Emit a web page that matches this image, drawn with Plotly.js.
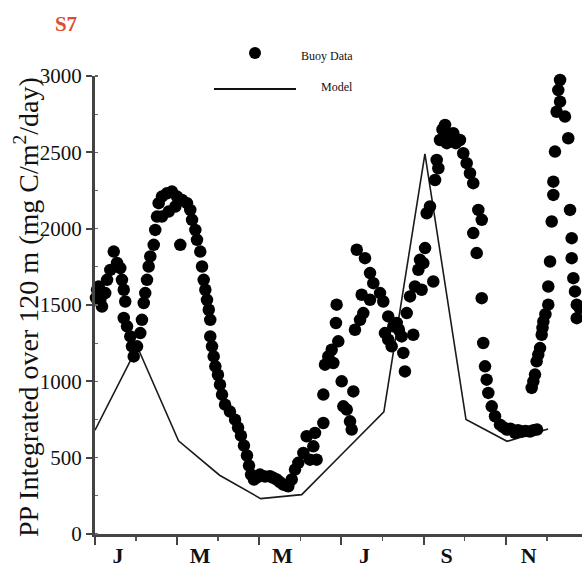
<!DOCTYPE html>
<html>
<head>
<meta charset="utf-8">
<script src="https://cdn.plot.ly/plotly-3.0.1.min.js"></script>
<style>html,body{margin:0;padding:0;background:#fff;}#chart{width:582px;height:567px;}</style>
</head>
<body>
<div id="chart"></div>
<script>
// ---- data (day of year, PP in mg C/m2/day) ----
const buoyDay = [
  0.7,1.5,2.7,3.9,5.1,7.5,8.8,11.2,13.7,16.1,18.5,19.7,21.0,22.1,
  21.0,23.4,25.8,27.0,28.3,30.7,33.1,34.3,
  35.6,36.7,38.0,39.2,40.4,42.9,44.0,45.3,46.5,48.9,52.6,56.2,59.9,63.6,67.2,69.6,70.9,48.9,53.8,58.7,62.3,
  73.3,74.5,76.9,78.2,79.4,80.6,81.8,83.1,84.2,84.2,85.5,86.7,87.9,89.8,91.3,92.8,95.0,98.6,102.3,104.5,106.6,108.8,111.0,112.5,114.0,116.1,120.5,124.2,127.8,132.7,137.5,141.2,143.7,146.1,
  118.5,130.2,135.0,139.5,
  148.5,152.2,154.6,157.0,159.5,161.9,160.7,166.8,166.8,168.0,170.4,172.9,174.1,177.7,176.0,176.5,180.2,181.4,183.9,186.3,187.5,188.7,189.9,193.6,191.2,197.2,200.9,203.3,194.8,200.9,208.2,210.6,196.0,
  214.2,211.8,216.7,224.0,220.4,227.7,232.5,225.2,226.4,230.1,233.7,236.2,237.4,241.1,247.1,238.6,239.8,217.9,214.2,222.0,
  242.3,244.7,248.4,250.8,249.6,252.0,255.7,261.7,266.6,269.0,271.5,273.9,276.3,280.0,282.5,276.3,278.8,282.5,283.6,284.9,286.1,287.3,289.8,292.2,295.8,300.7,306.8,311.9,317.7,322.9,
  253.8,258.5,263.5,257.0,298.2,303.5,309.0,314.5,320.3,
  319.0,321.4,322.6,325.1,326.3,327.5,331.1,331.1,332.4,333.6,334.8,334.8,336.0,345.7,337.2,343.3,339.7,338.4,339.7,347.0,348.2,348.2,349.4,350.6,351.9,351.9,
  320.2,323.8,326.9,329.0,354.0
];
const buoyPP = [
  1547,1600,1621,1534,1490,1578,1665,1730,1850,1775,1742,1665,1600,1523,
  1415,1360,1294,1229,1163,1229,1316,1403,
  1513,1578,1665,1752,1818,1894,1992,2079,2167,2210,2232,2243,2210,2188,2167,2123,2058,2079,2112,2145,1894,
  1992,1927,1850,1752,1665,1600,1534,1469,1403,1294,1229,1163,1098,1043,978,913,847,802,749,697,644,579,514,448,389,357,389,376,378,357,324,313,357,422,
  372,368,340,318,
  466,531,640,487,574,487,662,727,913,1109,1163,1207,1120,1262,1382,1502,1000,836,815,738,684,934,1338,1403,1862,1807,1709,1643,1567,1534,1578,1523,1447,
  1425,1316,1229,1294,1382,1447,1305,1186,1065,1556,1621,1731,1796,1873,1654,1600,1774,1360,1273,1338,
  2101,2145,2319,2396,2450,2581,2679,2625,2581,2494,2429,2363,2298,2123,2058,1971,1840,1545,1251,1098,1011,924,836,771,716,684,662,671,671,684,
  2650,2610,2560,2560,700,690,680,675,680,
  957,1044,1131,1218,1305,1392,1502,1621,1785,2047,2221,2308,2505,2592,2766,2734,2832,2908,2974,2123,1938,1807,1676,1589,1502,1414,
  1000,1175,1350,1440,1480
];
const modelDay = [0,31,61,91,121,151,181,211,241,271,301,331];
const modelPP  = [680,1225,610,385,232,258,529,800,2490,750,607,688];
const monthTickVals = [0,60,120,180,240,300];
const monthLabels = ['J','M','M','J','S','N'];
const seriesNames = ['Buoy Data','Model'];
const panelTitle = 'S7';
const yTitle = 'PP Integrated over 120 m (mg C/m<sup>2</sup>/day)';

// ---- layout helpers (pixel -> paper) ----
const W = 582, H = 567, ML = 95, MR = 0, MT = 76, MB = 33;
const PW = W - ML - MR, PH = H - MT - MB;
const px = x => (x - ML) / PW;
const py = y => (H - MB - y) / PH;
const serif = 'Liberation Serif, Times New Roman, serif';

const traces = [
  {x: modelDay, y: modelPP, name: seriesNames[1], type: 'scatter', mode: 'lines',
   line: {color: '#1a1a1a', width: 1.6}, hoverinfo: 'skip'},
  {x: buoyDay, y: buoyPP, name: seriesNames[0], type: 'scatter', mode: 'markers',
   marker: {color: '#000', size: 12.5, line: {width: 0}}, cliponaxis: false}
];

const layout = {
  width: W, height: H,
  margin: {l: ML, r: MR, t: MT, b: MB},
  paper_bgcolor: '#fff', plot_bgcolor: '#fff',
  showlegend: false,
  title: {text: '<b>' + panelTitle + '</b>', font: {family: serif, size: 21, color: '#e04a2e'},
          xref: 'container', x: 66 / W, xanchor: 'center', yref: 'container', y: 1 - 24 / H, yanchor: 'middle'},
  xaxis: {
    range: [0, PW / 1.369],
    tickmode: 'array', tickvals: monthTickVals, ticktext: monthLabels,
    ticks: 'outside', ticklen: 8, tickwidth: 2, tickcolor: '#444',
    ticklabelshift: 23, ticklabelstandoff: -8,
    tickfont: {family: serif, size: 22, color: '#111', weight: 'bold'},
    minor: {tickmode: 'array', tickvals: [30,90,150,210,270,330], ticks: 'outside', ticklen: 4, tickwidth: 1.5, tickcolor: '#555'},
    showline: true, linecolor: '#444', linewidth: 3,
    showgrid: false, zeroline: false, fixedrange: true
  },
  yaxis: {
    range: [0, 3000], tickmode: 'linear', tick0: 0, dtick: 500,
    ticks: 'outside', ticklen: 6, tickwidth: 2, tickcolor: '#444',
    tickfont: {family: serif, size: 21, color: '#111'},
    minor: {dtick: 250, ticks: 'inside', ticklen: 3, tickwidth: 1.2, tickcolor: '#666'},
    showline: true, linecolor: '#444', linewidth: 3,
    showgrid: false, zeroline: false, fixedrange: true
  },
  shapes: [
    {type: 'line', xref: 'paper', yref: 'paper', x0: px(214), x1: px(296), y0: py(89), y1: py(89),
     line: {color: '#111', width: 2}},
    {type: 'circle', xref: 'paper', yref: 'paper', x0: px(249), x1: px(261), y0: py(59), y1: py(47),
     fillcolor: '#000', line: {width: 0}}
  ],
  annotations: [
    {text: yTitle, textangle: -90, xref: 'paper', yref: 'paper', x: px(26), y: py(307),
     xanchor: 'center', yanchor: 'middle', showarrow: false, font: {family: serif, size: 28, color: '#111'}},
    {text: seriesNames[0], xref: 'paper', yref: 'paper', x: px(299), y: py(56), xanchor: 'left', yanchor: 'middle',
     showarrow: false, font: {family: serif, size: 12, color: '#111'}},
    {text: seriesNames[1], xref: 'paper', yref: 'paper', x: px(319), y: py(87), xanchor: 'left', yanchor: 'middle',
     showarrow: false, font: {family: serif, size: 12, color: '#111'}}
  ]
};

Plotly.newPlot('chart', traces, layout, {displayModeBar: false, staticPlot: true});
</script>
</body>
</html>
